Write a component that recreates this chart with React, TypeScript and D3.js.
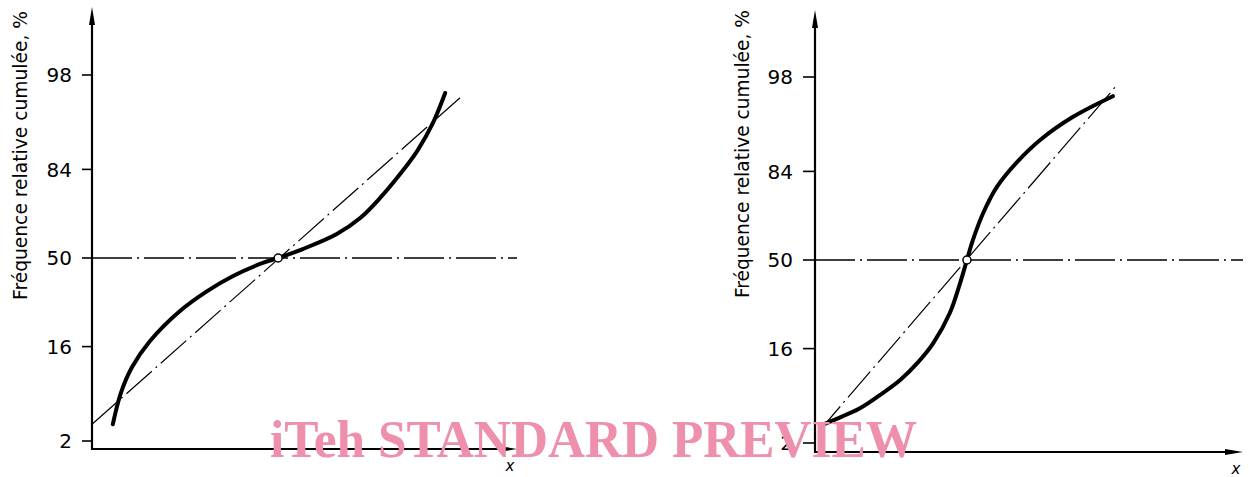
import * as d3 from 'd3';

// cumulative relative frequency (%) against x (0..100 along the axis)
const yTicks = [2, 16, 50, 84, 98];

const leftCurveX = [4.9, 6.8, 9.4, 13.6, 20.7, 27.1, 33.2, 40.2, 43.8, 49.6, 57.6, 63.1, 67.8, 72.5, 76.5, 80.2, 83.1];
const leftCurveY = [3.1, 6.5, 11.0, 17.5, 27.6, 35.5, 42.0, 47.8, 50, 54.0, 60.6, 67.3, 75.0, 82.7, 88.5, 93.5, 96.8];
const leftLineX = [0, 86.6];
const leftLineY = [3.1, 96.4];
const leftMid = [43.8, 50];

const rightCurveX = [1.6, 4.2, 10.5, 15.9, 19.9, 24.1, 27.6, 31.5, 33.9, 35.5, 36.9, 39.3, 42.5, 47.2, 52.6, 60.3, 69.6];
const rightCurveY = [3.2, 3.6, 4.8, 6.8, 8.9, 12.6, 17.5, 27.6, 39.8, 50, 58.9, 70.1, 79.4, 86.4, 91.1, 94.6, 96.7];
const rightLineX = [0.7, 70.8];
const rightLineY = [2.66, 97.6];
const rightMid = [35.5, 50];

const yLabel = 'Fréquence relative cumulée, %';
const xLabel = 'x';
const watermark = 'iTeh STANDARD PREVIEW';

// inverse normal CDF (Acklam), used for the probability-paper y axis
function probit(p: number) {
  const a = [-39.69683028665376, 220.9460984245205, -275.9285104469687, 138.357751867269, -30.66479806614716, 2.506628277459239];
  const b = [-54.47609879822406, 161.5858368580409, -155.6989798598866, 66.80131188771972, -13.28068155692980];
  const c = [-0.007784894002430293, -0.3223964580411365, -2.400758277161838, -2.549732539343734, 4.374664141464968, 2.938163982698783];
  const d = [0.007784695709041462, 0.3224671290700398, 2.445134137142996, 3.754408661907416];
  const pl = 0.02425;
  if (p < pl) {
    const q = Math.sqrt(-2 * Math.log(p));
    return (((((c[0] * q + c[1]) * q + c[2]) * q + c[3]) * q + c[4]) * q + c[5]) / ((((d[0] * q + d[1]) * q + d[2]) * q + d[3]) * q + 1);
  }
  if (p <= 1 - pl) {
    const q = p - 0.5;
    const r = q * q;
    return (((((a[0] * r + a[1]) * r + a[2]) * r + a[3]) * r + a[4]) * r + a[5]) * q / (((((b[0] * r + b[1]) * r + b[2]) * r + b[3]) * r + b[4]) * r + 1);
  }
  const q = Math.sqrt(-2 * Math.log(1 - p));
  return -(((((c[0] * q + c[1]) * q + c[2]) * q + c[3]) * q + c[4]) * q + c[5]) / ((((d[0] * q + d[1]) * q + d[2]) * q + d[3]) * q + 1);
}

const FONT = '"DejaVu Sans", sans-serif';
const DASH = '40,5,2,5';

type PanelProps = {
  x0: number; x1: number; yTop: number; yBottom: number; y2: number; y98: number;
  tickLen: number; labelBase: number; labelTop: number; labelBottom: number;
  curveX: number[]; curveY: number[]; lineX: number[]; lineY: number[]; mid: number[];
};

const Panel = (p: PanelProps) => {
  const x = d3.scaleLinear().domain([0, 100]).range([p.x0, p.x1]);
  const z = d3.scaleLinear().domain([probit(0.02), probit(0.98)]).range([p.y2, p.y98]);
  const y = (v: number) => z(probit(v / 100));

  const line = d3.line<number>()
    .x((_, i) => x(p.curveX[i]))
    .y(v => y(v))
    .curve(d3.curveCatmullRom.alpha(0.5));
  const diag = d3.line<number>()
    .x((_, i) => x(p.lineX[i]))
    .y(v => y(v));

  const ax = x(0);
  const ay = p.yBottom;
  const tipX = x(100);

  return (
    <g>
      {/* 50 % reference line */}
      <line x1={ax} x2={tipX} y1={y(50)} y2={y(50)} stroke="#000" strokeWidth={1.3} strokeDasharray={DASH} />
      {/* normal distribution straight line */}
      <path d={diag(p.lineY) ?? ''} fill="none" stroke="#000" strokeWidth={1.2} strokeDasharray="34,5,2,5" />
      {/* observed curve */}
      <path d={line(p.curveY) ?? ''} fill="none" stroke="#000" strokeWidth={4} strokeLinecap="round" />
      <circle cx={x(p.mid[0])} cy={y(p.mid[1])} r={4} fill="#fff" stroke="#000" strokeWidth={1.5} />

      {/* axes */}
      <line x1={ax} x2={ax} y1={ay} y2={p.yTop + 10} stroke="#000" strokeWidth={2.2} />
      <path d={`M${ax},${p.yTop} L${ax - 3},${p.yTop + 18} L${ax + 3},${p.yTop + 18} Z`} fill="#000" />
      <line x1={ax - 1} x2={tipX - 10} y1={ay} y2={ay} stroke="#000" strokeWidth={2.2} />
      <path d={`M${tipX},${ay} L${tipX - 18},${ay - 3} L${tipX - 18},${ay + 3} Z`} fill="#000" />

      {yTicks.map(t => (
        <g key={t}>
          <line x1={ax - p.tickLen} x2={ax} y1={y(t)} y2={y(t)} stroke="#000" strokeWidth={1.6} />
          <text x={ax - p.tickLen - 10} y={y(t)} dy="0.36em" textAnchor="end" fontFamily={FONT} fontSize={20}>{t}</text>
        </g>
      ))}

      <text
        transform={`translate(${p.labelBase},${p.labelBottom}) rotate(-90)`}
        fontFamily={FONT} fontSize={19}
        textLength={p.labelBottom - p.labelTop} lengthAdjust="spacingAndGlyphs"
      >{yLabel}</text>
      <text x={tipX - 7} y={ay + 22} textAnchor="middle" fontFamily={FONT} fontStyle="italic" fontSize={15}>{xLabel}</text>
    </g>
  );
};

export default function App() {
  return (
    <svg width={1249} height={477} style={{ position: 'absolute', left: 0, top: 0, background: '#fff' }}>
      <rect width={1249} height={477} fill="#fff" />
      <Panel
        x0={92} x1={517} yTop={7} yBottom={449} y2={441} y98={75}
        tickLen={10} labelBase={27} labelTop={11} labelBottom={300}
        curveX={leftCurveX} curveY={leftCurveY} lineX={leftLineX} lineY={leftLineY} mid={leftMid}
      />
      <Panel
        x0={815} x1={1243} yTop={10} yBottom={452} y2={443} y98={77}
        tickLen={12} labelBase={749} labelTop={10} labelBottom={298}
        curveX={rightCurveX} curveY={rightCurveY} lineX={rightLineX} lineY={rightLineY} mid={rightMid}
      />
      <text x={270} y={457} fontFamily='"Liberation Serif", "Times New Roman", serif' fontWeight="bold"
        fontSize={52} fill="#ee8fab" textLength={647} lengthAdjust="spacingAndGlyphs">{watermark}</text>
    </svg>
  );
}
